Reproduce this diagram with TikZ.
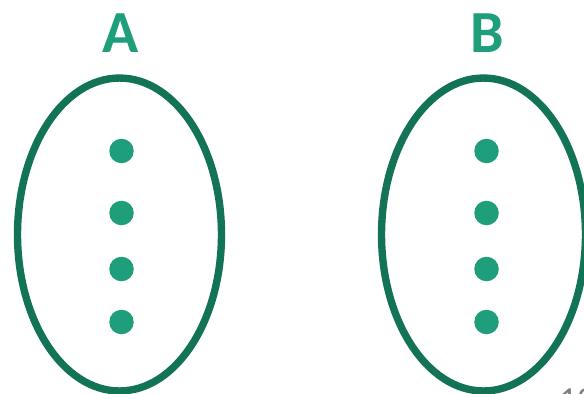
\documentclass[tikz,border=0pt]{standalone}
\usepackage{fontspec}
\setsansfont{Carlito}
\usepackage{xcolor}
\usetikzlibrary{shapes.geometric,positioning}

\definecolor{setedge}{HTML}{127356}
\definecolor{setfill}{HTML}{1E9E7A}

\begin{document}
\begin{tikzpicture}[
  x=0.02cm, y=-0.02cm,
  setbox/.style={ellipse, draw=setedge, line width=4.2pt, inner sep=0pt, minimum width=4.08cm, minimum height=6.26cm},
  elem/.style={circle, fill=setfill, inner sep=0pt, minimum size=0.49cm},
  setname/.style={font=\sffamily\bfseries\fontsize{34}{36}\selectfont, text=setfill},
  node distance=0.7cm
]
\useasboundingbox (0,0) rectangle (584,393);

% Sets
\node[setbox] (setA) at (119.5,234.5) {};
\node[setbox] (setB) at (483.5,234.5) {};
\node[setname] (labA) at (121,33) {A};
\node[setname] (labB) at (487,33) {B};

% Elements
\foreach \s/\x in {A/121.5, B/486.5} {
  \node[elem] (\s1) at (\x,151) {};
  \node[elem] (\s2) at (\x,213) {};
  \node[elem] (\s3) at (\x,269) {};
  \node[elem] (\s4) at (\x,322) {};
}

% Page number
\node[font=\sffamily\fontsize{20}{22}\selectfont, text=gray, anchor=north west] (pagenum) at (553,382) {12};

\end{tikzpicture}
\end{document}
